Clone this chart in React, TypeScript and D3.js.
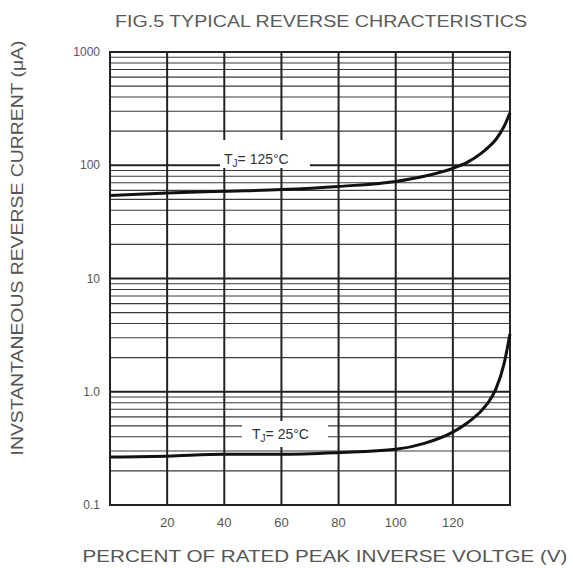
import React from 'react';
import * as d3 from 'd3';

// values
const pctRated = [0, 20, 40, 60, 80, 100, 110, 120, 125, 130, 132, 135, 138, 140];
const current125 = [54, 57, 59, 61, 65, 72, 80, 94, 106, 128, 141, 168, 222, 290];
const current25 = [0.265, 0.27, 0.28, 0.28, 0.29, 0.31, 0.35, 0.44, 0.53, 0.68, 0.78, 1.05, 1.8, 3.25];
const xTicks = [20, 40, 60, 80, 100, 120];
const yTicks = [0.1, 1, 10, 100, 1000];
const yTickLabels = ['0.1', '1.0', '10', '100', '1000'];

const W = 573;
const H = 568;
const margin = { top: 52, right: 63, bottom: 63, left: 110 };
const FONT = 'Liberation Sans, Arial, sans-serif';

const App: React.FC = () => {
  const innerW = W - margin.left - margin.right;
  const innerH = H - margin.top - margin.bottom;

  const x = d3.scaleLinear().domain([0, 140]).range([0, innerW]);
  const y = d3.scaleLog().domain([0.1, 1000]).range([innerH, 0]);

  // minor log lines 2..9 for every decade
  const minor: number[] = [];
  yTicks.slice(0, -1).forEach(d => {
    for (let k = 2; k <= 9; k++) minor.push(d * k);
  });

  const line = d3.line<[number, number]>()
    .x(d => x(d[0]))
    .y(d => y(d[1]))
    .curve(d3.curveMonotoneX);

  const hot = line(pctRated.map((p, i) => [p, current125[i]]) as [number, number][]) || '';
  const cold = line(pctRated.map((p, i) => [p, current25[i]]) as [number, number][]) || '';

  return (
    <svg width={W} height={H} style={{ position: 'absolute', left: 0, top: 0, background: '#fff' }}>
      <text x={321} y={27} textAnchor="middle" fontFamily={FONT} fontSize={16} fill="#5a5a5a"
        textLength={412} lengthAdjust="spacingAndGlyphs">
        FIG.5 TYPICAL REVERSE CHRACTERISTICS
      </text>

      <g transform={`translate(${margin.left},${margin.top})`}>
        {minor.map(v => (
          <line key={'m' + v} x1={0} x2={innerW} y1={y(v)} y2={y(v)} stroke="#3a3a3a" strokeWidth={1.1} />
        ))}
        {yTicks.map(v => (
          <line key={'M' + v} x1={0} x2={innerW} y1={y(v)} y2={y(v)} stroke="#222" strokeWidth={2} />
        ))}
        {xTicks.map(v => (
          <line key={'v' + v} x1={x(v)} x2={x(v)} y1={0} y2={innerH} stroke="#222" strokeWidth={2} />
        ))}
        <rect x={0} y={0} width={innerW} height={innerH} fill="none" stroke="#222" strokeWidth={2} />

        {/* label backgrounds cut through the grid */}
        <rect x={110} y={88} width={90} height={28} fill="#fff" />
        <rect x={132} y={369} width={86} height={26} fill="#fff" />

        <path d={hot} fill="none" stroke="#111" strokeWidth={3} />
        <path d={cold} fill="none" stroke="#111" strokeWidth={3} />

        <text x={114} y={112} fontFamily={FONT} fontSize={14} fill="#333">
          T<tspan fontSize={10} dy={3}>J</tspan><tspan dy={-3}>= 125°C</tspan>
        </text>
        <text x={142} y={387} fontFamily={FONT} fontSize={14} fill="#333">
          T<tspan fontSize={10} dy={3}>J</tspan><tspan dy={-3}>= 25°C</tspan>
        </text>

        {yTicks.map((v, i) => (
          <text key={'yl' + v} x={-10} y={y(v)} dy="0.35em" textAnchor="end"
            fontFamily={FONT} fontSize={12} fill="#555">{yTickLabels[i]}</text>
        ))}
        {xTicks.map(v => (
          <text key={'xl' + v} x={x(v)} y={innerH + 22} textAnchor="middle"
            fontFamily={FONT} fontSize={13} fill="#555">{v}</text>
        ))}
      </g>

      <text transform="translate(23,248) rotate(-90)" textAnchor="middle" fontFamily={FONT} fontSize={16}
        fill="#555" textLength={415} lengthAdjust="spacingAndGlyphs">
        INVSTANTANEOUS REVERSE CURRENT (μA)
      </text>
      <text x={325} y={562} textAnchor="middle" fontFamily={FONT} fontSize={17} fill="#555"
        textLength={485} lengthAdjust="spacingAndGlyphs">
        PERCENT OF RATED PEAK INVERSE VOLTGE  (V)
      </text>
    </svg>
  );
};

export default App;
